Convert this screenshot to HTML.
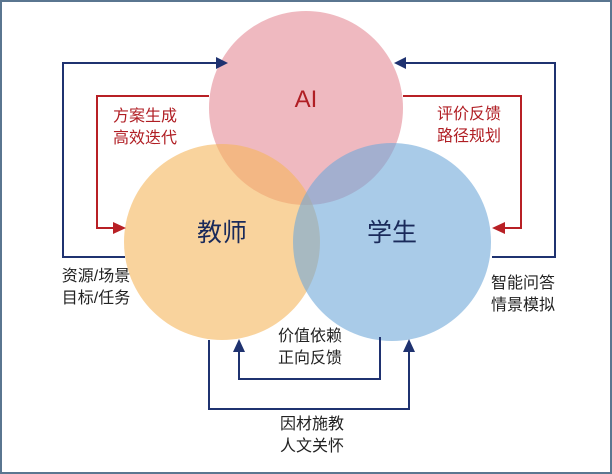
<!DOCTYPE html>
<html><head><meta charset="utf-8"><style>
html,body{margin:0;padding:0;background:#fff}
svg{display:block}
text{font-family:"Liberation Sans","Noto Sans CJK SC",sans-serif}
</style></head><body>
<svg width="612" height="474" viewBox="0 0 612 474" xmlns="http://www.w3.org/2000/svg">
<rect x="1" y="1" width="610" height="472" fill="#fff" stroke="#5a7690" stroke-width="2"/>
<circle cx="306" cy="108" r="97" fill="#e48a96" fill-opacity="0.6"/>
<circle cx="222" cy="242" r="98" fill="#f5b65c" fill-opacity="0.6"/>
<circle cx="392" cy="242" r="99" fill="#6fa8d8" fill-opacity="0.6"/>
<g fill="none" stroke="#1f3270" stroke-width="2">
<polyline points="125,257 63,257 63,63 218,63"/>
<polyline points="492,257 555,257 555,63 404,63"/>
<polyline points="239,350 239,379 380,379 380,337"/>
<polyline points="209,340 209,409 409,409 409,350"/>
</g>
<g fill="#1f3270">
<polygon points="228,63 216,57 216,69"/>
<polygon points="394,63 406,57 406,69"/>
<polygon points="239,339 233,352 245,352"/>
<polygon points="409,339 403,352 415,352"/>
</g>
<g fill="none" stroke="#b82025" stroke-width="2">
<polyline points="209,96 97,96 97,228 116,228"/>
<polyline points="403,96 521,96 521,228 502,228"/>
</g>
<g fill="#b82025">
<polygon points="126,228 113,222 113,234"/>
<polygon points="492,228 505,222 505,234"/>
</g>
<text x="306" y="107" font-size="24" fill="#b01e24" text-anchor="middle">AI</text>
<text x="222" y="241" font-size="25" fill="#1a2a5a" text-anchor="middle">教师</text>
<text x="392" y="241" font-size="25" fill="#1a2a5a" text-anchor="middle">学生</text>
<g font-size="16" fill="#b01e24" text-anchor="middle">
<text x="145" y="121">方案生成</text><text x="145" y="143">高效迭代</text>
<text x="469" y="119">评价反馈</text><text x="469" y="141">路径规划</text>
</g>
<g font-size="16" fill="#222" text-anchor="middle">
<text x="96" y="281">资源/场景</text><text x="96" y="303">目标/任务</text>
<text x="523" y="288">智能问答</text><text x="523" y="310">情景模拟</text>
<text x="310" y="341">价值依赖</text><text x="310" y="363">正向反馈</text>
<text x="312" y="429">因材施教</text><text x="312" y="451">人文关怀</text>
</g>
</svg>
</body></html>
